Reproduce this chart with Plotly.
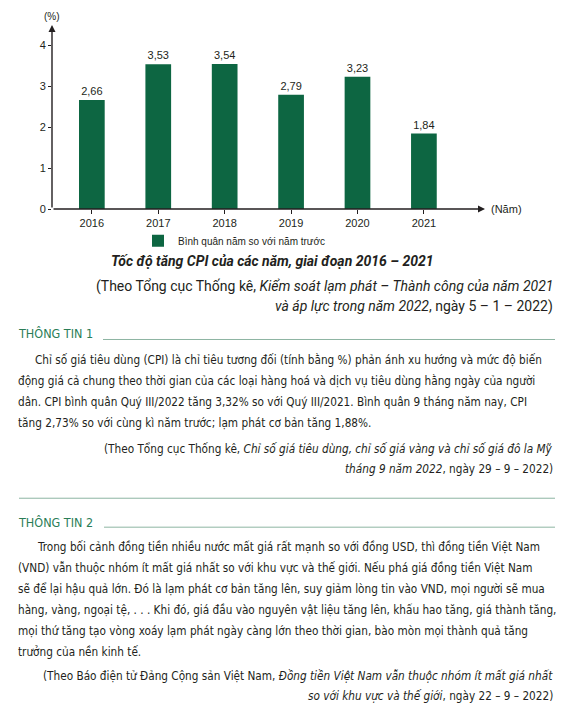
import plotly.graph_objects as go

# =============================================================================
# DATOS
# =============================================================================
YEARS = ["2016", "2017", "2018", "2019", "2020", "2021"]
CPI = [2.66, 3.53, 3.54, 2.79, 3.23, 1.84]
Y_TICKS = [0, 1, 2, 3, 4]
SERIES_NAME = "Bình quân năm so với năm trước"
TITLE = "Tốc độ tăng CPI của các năm, giai đoạn 2016 – 2021"

SOURCE_1 = [
    "(Theo Tổng cục Thống kê, <i>Kiểm soát lạm phát – Thành công của năm 2021</i>",
    "<i>và áp lực trong năm 2022</i>, ngày 5 – 1 – 2022)",
]
INFO_1_TITLE = "THÔNG TIN 1"
INFO_1 = [
    "Chỉ số giá tiêu dùng (CPI) là chỉ tiêu tương đối (tính bằng %) phản ánh xu hướng và mức độ biến",
    "động giá cả chung theo thời gian của các loại hàng hoá và dịch vụ tiêu dùng hằng ngày của người",
    "dân. CPI bình quân Quý III/2022 tăng 3,32% so với Quý III/2021. Bình quân 9 tháng năm nay, CPI",
    "tăng 2,73% so với cùng kì năm trước; lạm phát cơ bản tăng 1,88%.",
]
SOURCE_2 = [
    "(Theo Tổng cục Thống kê, <i>Chỉ số giá tiêu dùng, chỉ số giá vàng và chỉ số giá đô la Mỹ</i>",
    "<i>tháng 9 năm 2022</i>, ngày 29 – 9 – 2022)",
]
INFO_2_TITLE = "THÔNG TIN 2"
INFO_2 = [
    "Trong bối cảnh đồng tiền nhiều nước mất giá rất mạnh so với đồng USD, thì đồng tiền Việt Nam",
    "(VND) vẫn thuộc nhóm ít mất giá nhất so với khu vực và thế giới. Nếu phá giá đồng tiền Việt Nam",
    "sẽ để lại hậu quả lớn. Đó là lạm phát cơ bản tăng lên, suy giảm lòng tin vào VND, mọi người sẽ mua",
    "hàng, vàng, ngoại tệ, . . . Khi đó, giá đầu vào nguyên vật liệu tăng lên, khấu hao tăng, giá thành tăng,",
    "mọi thứ tăng tạo vòng xoáy lạm phát ngày càng lớn theo thời gian, bào mòn mọi thành quả tăng",
    "trưởng của nền kinh tế.",
]
SOURCE_3 = [
    "(Theo Báo điện tử Đảng Cộng sản Việt Nam, <i>Đồng tiền Việt Nam vẫn thuộc nhóm ít mất giá nhất</i>",
    "<i>so với khu vực và thế giới</i>, ngày 22 – 9 – 2022)",
]

# =============================================================================
# ESTILO / GEOMETRIA
# =============================================================================
# la página deja 8 px de margen en el body: la figura se encoge para no desbordar
OFF = 8
W, H = 555, 707
ML, MR, MT, MB = 44, 78, 17, 505.7
GREEN = "#0d6642"
INK = "#231f20"
HEAD_GREEN = "#2a7d57"
RULE = "#8db5a2"
CHART_FONT = "Liberation Sans"
NARROW = "DejaVu Sans Condensed, sans-serif"
WIDE = "Roboto, Liberation Sans, sans-serif"
BODY_SIZE = 11.7


def px(x):
    return (x - OFF - ML) / (W - ML - MR)


def py(y):
    return (H - MB - (y - OFF)) / (H - MT - MB)


def texto(x, y, s, size, font=NARROW, color=INK, anchor="left"):
    return dict(x=px(x), y=py(y), xref="paper", yref="paper", text=s, showarrow=False,
                xanchor=anchor, yanchor="middle", font=dict(family=font, size=size, color=color))


def regla(x0, x1, y):
    return dict(type="line", xref="paper", yref="paper", x0=px(x0), x1=px(x1),
                y0=py(y), y1=py(y), line=dict(color=RULE, width=1))


# =============================================================================
# FIGURA
# =============================================================================
xs = list(range(len(YEARS)))
x_min, x_max = -0.6, len(YEARS) - 0.08
y_max = 4.49

fig = go.Figure()
fig.add_bar(
    x=xs, y=CPI, name=SERIES_NAME, width=0.387,
    marker=dict(color=GREEN, line=dict(width=0)),
    texttemplate="%{y:.2f}", textposition="outside", cliponaxis=False,
    textfont=dict(family=CHART_FONT, size=11, color=INK),
)

anns = [
    # ejes con flecha
    dict(x=x_min, y=y_max, ax=x_min, ay=0, xref="x", yref="y", axref="x", ayref="y",
         text="", showarrow=True, arrowhead=2, arrowsize=1, arrowwidth=1.4, arrowcolor=INK),
    dict(x=x_max, y=0, ax=x_min, ay=0, xref="x", yref="y", axref="x", ayref="y",
         text="", showarrow=True, arrowhead=2, arrowsize=1, arrowwidth=1.4, arrowcolor=INK),
    texto(52, 16, "(%)", 10, font=CHART_FONT, anchor="center"),
    texto(489, 209, "(Năm)", 11, font=CHART_FONT),
    texto(272, 261, f"<b><i>{TITLE}</i></b>", 14, font=WIDE, anchor="center"),
    texto(16, 334, INFO_1_TITLE, 12.5, color=HEAD_GREEN),
    texto(16, 523, INFO_2_TITLE, 12.5, color=HEAD_GREEN),
]
for i, s in enumerate(SOURCE_1):
    anns.append(texto(555, 287 + 20 * i, s, 14, font=WIDE, anchor="right"))
for i, s in enumerate(INFO_1):
    anns.append(texto(33 if i == 0 else 16, 361 + 21 * i, s, BODY_SIZE))
for i, s in enumerate(SOURCE_2):
    anns.append(texto(555, 450 + 20 * i, s, BODY_SIZE, anchor="right"))
for i, s in enumerate(INFO_2):
    anns.append(texto(35 if i == 0 else 16, 548 + 21 * i, s, BODY_SIZE))
for i, s in enumerate(SOURCE_3):
    anns.append(texto(555, 677 + 20 * i, s, BODY_SIZE, anchor="right"))

fig.update_layout(
    width=W, height=H,
    margin=dict(l=ML, r=MR, t=MT, b=MB),
    paper_bgcolor="white", plot_bgcolor="white",
    separators=",.",
    showlegend=True,
    legend=dict(x=px(138), y=py(241), xanchor="left", yanchor="middle",
                orientation="h", font=dict(family=CHART_FONT, size=10, color=INK),
                itemwidth=30, bgcolor="rgba(0,0,0,0)"),
    xaxis=dict(range=[x_min, x_max], tickvals=xs, ticktext=YEARS, ticks="outside",
               ticklen=4, tickcolor=INK, showgrid=False, zeroline=False, showline=False,
               tickfont=dict(family=CHART_FONT, size=11, color=INK), fixedrange=True),
    yaxis=dict(range=[0, y_max], tickvals=Y_TICKS, ticks="outside", ticklen=3,
               tickcolor=INK, showgrid=False, zeroline=False, showline=False,
               tickfont=dict(family=CHART_FONT, size=11, color=INK), fixedrange=True),
    yaxis2=dict(overlaying="y", matches="y", anchor="x", side="left", tickvals=Y_TICKS[1:],
                ticks="inside", ticklen=3, tickcolor=INK, showticklabels=False,
                showgrid=False, zeroline=False, showline=False),
    annotations=anns,
    shapes=[regla(103, 555, 340), regla(19, 555, 499), regla(104, 555, 528)],
)

fig.write_html("out.html")
